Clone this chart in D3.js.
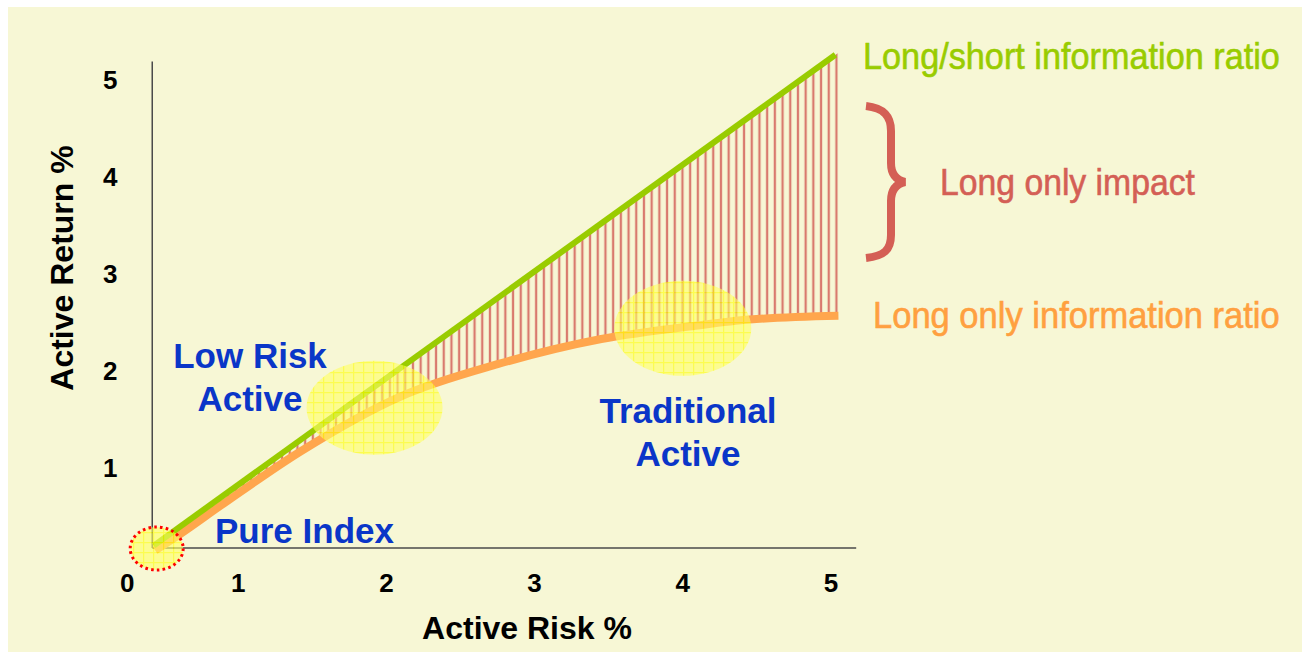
<!DOCTYPE html>
<html><head><meta charset="utf-8">
<script src="https://cdn.jsdelivr.net/npm/d3@7"></script>
<style>html,body{margin:0;padding:0;background:#fff;} svg{display:block;}</style>
</head><body><svg id="c" width="1302" height="652"></svg>
<script>
// ---- data ----
const xTicks = [1, 2, 3, 4, 5];
const yTicks = [1, 2, 3, 4, 5];
const originLabel = "0";
const axisOrigin = [0.42, 0.175];
const axisMax = [5.17, 5.19];
const lsRisk = [0.43, 5.03];          // long/short information ratio line
const lsReturn = [0.2, 5.26];
const loRisk = [0.44, 0.61, 0.88, 1.42, 2.1, 2.75, 3.45, 4.1, 4.45, 5.05];   // long only curve
const loReturn = [0.15, 0.32, 0.61, 1.17, 1.74, 2.07, 2.33, 2.47, 2.53, 2.57];
const zoneLines = [["Pure Index"], ["Low Risk", "Active"], ["Traditional", "Active"]];
const zoneRisk = [0.45, 1.92, 4.0];
const zoneReturn = [0.17, 1.62, 2.44];
const seriesLabels = ["Long/short information ratio", "Long only impact", "Long only information ratio"];
const xTitle = "Active Risk %";
const yTitle = "Active Return %";

// ---- drawing ----
const svg = d3.select("#c");
const x = d3.scaleLinear([0, 5], [90, 831]);
const y = d3.scaleLinear([0, 5], [565, 80]);

const defs = svg.append("defs");
const vh = defs.append("pattern").attr("id", "vh").attr("patternUnits", "userSpaceOnUse")
  .attr("width", 7.7).attr("height", 20).attr("x", 1);
vh.append("line").attr("x1", 3.85).attr("x2", 3.85).attr("y1", 0).attr("y2", 20)
  .attr("stroke", "#d4645c").attr("stroke-width", 2.3).attr("stroke-opacity", 0.85);
const grid = defs.append("pattern").attr("id", "grid").attr("patternUnits", "userSpaceOnUse")
  .attr("width", 10).attr("height", 10).attr("x", 3).attr("y", 2);
grid.append("rect").attr("width", 10).attr("height", 10).attr("fill", "#ffff66");
grid.append("path").attr("d", "M0,0.5H10M0.5,0V10").attr("stroke", "#ffff00").attr("stroke-width", 1.5);

svg.append("rect").attr("x", 8).attr("y", 7).attr("width", 1294).attr("height", 645).attr("fill", "#f7f7d5");

// axes
const axisG = svg.append("g").attr("stroke", "#4a4a4a").attr("stroke-width", 1.5);
axisG.append("line").attr("x1", x(axisOrigin[0])).attr("x2", x(axisOrigin[0]))
  .attr("y1", y(axisOrigin[1])).attr("y2", y(axisMax[1]));
axisG.append("line").attr("x1", x(axisOrigin[0])).attr("x2", x(axisMax[0]))
  .attr("y1", y(axisOrigin[1])).attr("y2", y(axisOrigin[1]));

const tickFont = "'Liberation Sans', Arial, sans-serif";
svg.append("g").selectAll("text").data(xTicks).join("text")
  .attr("x", d => x(d)).attr("y", y(axisOrigin[1]) + 35)
  .attr("text-anchor", "middle").attr("dominant-baseline", "central")
  .attr("font-family", tickFont).attr("font-weight", "bold").attr("font-size", 26)
  .text(d => d);
svg.append("g").selectAll("text").data(yTicks).join("text")
  .attr("x", x(axisOrigin[0]) - 42).attr("y", d => y(d))
  .attr("text-anchor", "middle").attr("dominant-baseline", "central")
  .attr("font-family", tickFont).attr("font-weight", "bold").attr("font-size", 26)
  .text(d => d);
svg.append("text").attr("x", x(axisOrigin[0]) - 25).attr("y", y(axisOrigin[1]) + 35)
  .attr("text-anchor", "middle").attr("dominant-baseline", "central")
  .attr("font-family", tickFont).attr("font-weight", "bold").attr("font-size", 26)
  .text(originLabel);

svg.append("text").attr("x", 527).attr("y", 628)
  .attr("text-anchor", "middle").attr("dominant-baseline", "central")
  .attr("font-family", tickFont).attr("font-weight", "bold").attr("font-size", 32)
  .text(xTitle);
svg.append("text").attr("transform", "translate(62,268) rotate(-90)")
  .attr("text-anchor", "middle").attr("dominant-baseline", "central")
  .attr("font-family", tickFont).attr("font-weight", "bold").attr("font-size", 32)
  .text(yTitle);

// hatch area between curves
const lsScale = d3.scaleLinear(lsRisk, lsReturn);
const loPts = loRisk.map((r, i) => [r, loReturn[i]]);
svg.append("path").datum(loPts)
  .attr("d", d3.area().x(d => x(d[0])).y0(d => y(d[1])).y1(d => y(lsScale(d[0]))).curve(d3.curveMonotoneX))
  .attr("fill", "url(#vh)");

// long only curve
svg.append("path").datum(loPts)
  .attr("d", d3.line().x(d => x(d[0])).y(d => y(d[1])).curve(d3.curveMonotoneX))
  .attr("fill", "none").attr("stroke", "#ffa64d").attr("stroke-width", 8);
// long/short line
svg.append("path").datum(lsRisk.map((r, i) => [r, lsReturn[i]]))
  .attr("d", d3.line().x(d => x(d[0])).y(d => y(d[1])))
  .attr("fill", "none").attr("stroke", "#99cc00").attr("stroke-width", 6);

// zone ellipses
const rx = [26.5, 68, 68.5], ry = [21.5, 47, 47.5];
svg.append("g").selectAll("ellipse").data(zoneRisk).join("ellipse")
  .attr("cx", d => x(d)).attr("cy", (d, i) => y(zoneReturn[i]))
  .attr("rx", (d, i) => rx[i]).attr("ry", (d, i) => ry[i])
  .attr("fill", "url(#grid)").attr("fill-opacity", 0.62)
  .attr("stroke", (d, i) => i === 0 ? "#ff0000" : "none")
  .attr("stroke-width", 3).attr("stroke-dasharray", "2.6,3.2");

// zone labels
const blue = "#0a36c8";
const zoneLabelPos = [[215, 530, "start"], [250, 355, "middle"], [688, 410, "middle"]];
zoneLines.forEach((lines, i) => {
  const t = svg.append("text").attr("font-family", tickFont).attr("font-weight", "bold")
    .attr("font-size", 35).attr("fill", blue).attr("text-anchor", zoneLabelPos[i][2])
    .attr("dominant-baseline", "central");
  lines.forEach((ln, j) => t.append("tspan").attr("x", zoneLabelPos[i][0])
    .attr("y", zoneLabelPos[i][1] + j * 43).text(ln));
});

// right side labels (condensed by horizontal scaling)
const narrow = "'Liberation Sans Narrow', 'Arial Narrow', 'Liberation Sans', sans-serif";
const rlab = [[863, 69, 417, "#99cc00"], [940, 195, 255, "#d45f55"], [873, 328, 407, "#ffa040"]];
seriesLabels.forEach((s, i) => {
  const g = svg.append("g");
  const t = g.append("text").attr("x", 0).attr("y", 0)
    .attr("font-family", narrow).attr("font-size", 37).attr("fill", rlab[i][3])
    .attr("stroke", rlab[i][3]).attr("stroke-width", 0.6)
    .text(s);
  const w = t.node().getComputedTextLength();
  g.attr("transform", `translate(${rlab[i][0]},${rlab[i][1]}) scale(${rlab[i][2] / w},1)`);
});

// brace
svg.append("path")
  .attr("d", "M866,106 C884,108 891,116 891,131 L891,163 C891,174 896,180 905,182 C896,184 891,190 891,201 L891,235 C891,250 884,256 866,258")
  .attr("fill", "none").attr("stroke", "#d45f55").attr("stroke-width", 8);
</script></body></html>
